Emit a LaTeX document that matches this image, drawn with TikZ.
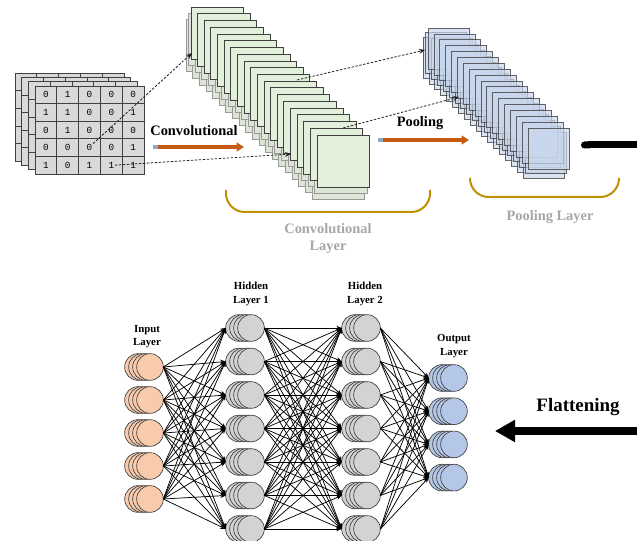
\documentclass[tikz,border=0pt]{standalone}
\usepackage{fontspec}
\setmainfont{Liberation Serif}
\setmonofont{Liberation Mono}
\usetikzlibrary{arrows.meta}
\definecolor{matfill}{HTML}{D9D9D9}
\definecolor{gridc}{HTML}{404040}
\definecolor{convfill}{HTML}{E2EFDA}
\definecolor{shadfill}{HTML}{DDE6D6}
\definecolor{poolfill}{HTML}{C9D7EC}
\definecolor{orangec}{HTML}{C55A11}
\definecolor{stripec}{HTML}{8EA9C8}
\definecolor{goldc}{HTML}{BF9000}
\definecolor{grayt}{HTML}{A6A6A6}
\definecolor{infill}{HTML}{F8CBAD}
\definecolor{hidfill}{HTML}{D3D3D3}
\definecolor{outfill}{HTML}{B4C7E7}
\definecolor{dashc}{HTML}{202020}
\tikzset{
  gridline/.style={draw=gridc, line width=0.55pt},
  digit/.style={font=\ttfamily\fontsize{7}{8}\selectfont, inner sep=0.5pt},
  convsq/.style={draw=gridc, line width=0.6pt, fill=convfill},
  shadsq/.style={draw=gray!80, line width=0.5pt, fill=shadfill},
  poolsq/.style={draw=gridc, draw opacity=0.8, line width=0.55pt, fill=poolfill, fill opacity=0.7},
  dashconn/.style={draw=dashc, line width=0.6pt, dash pattern=on 1.8pt off 1.2pt, -{Stealth[length=4.5pt,width=3.6pt]}},
  oarrow/.style={draw=orangec, line width=2.6pt, -{Triangle[length=5.5pt,width=6.5pt]}},
  bracket/.style={draw=goldc, line width=1.5pt, rounded corners=14pt},
  boldlbl/.style={font=\bfseries\fontsize{10.8}{12.75}\selectfont, align=center, inner sep=0pt},
  graylbl/.style={font=\bfseries\fontsize{10.8}{12.75}\selectfont, text=grayt, align=center, inner sep=0pt},
  nnlbl/.style={font=\bfseries\fontsize{8.1}{9.9}\selectfont, align=center, inner sep=0pt},
  neu/.style={circle, draw=gridc, line width=0.5pt, minimum size=20pt, inner sep=0pt, outer sep=0pt},
  conn/.style={draw=black, line width=0.55pt, -{Stealth[length=4pt,width=3.4pt]}},
}
\newcommand\mkneuron[4]{%
  \foreach \k in {3,2,1} {\node[neu, fill=#4] (#1x\k) at ({#2-4*\k},#3) {};}
  \node[neu, fill=#4] (#1) at (#2,#3) {};}
\begin{document}
\begin{tikzpicture}[x=0.75pt,y=-0.75pt]
\useasboundingbox (0,0) rectangle (637,541);
% ---------- input matrix ----------
\foreach \L in {3,2,1,0} {
  \begin{scope}[shift={(-6.7*\L,-4.3*\L)}]
    \draw[gridline, fill=matfill] (35,86) rectangle (144,174);
    \foreach \c in {1,...,4} \draw[gridline] ({35+21.8*\c},86) -- ({35+21.8*\c},174);
    \foreach \r in {1,...,4} \draw[gridline] (35,{86+17.6*\r}) -- (144,{86+17.6*\r});
  \end{scope}}
\foreach \row [count=\r from 0] in {{0,1,0,0,0},{1,1,0,0,1},{0,1,0,0,0},{0,0,0,0,1},{1,0,1,1,1}}
  \foreach \v [count=\c from 0] in \row
    \node[digit] (d\r\c) at ({35+21.8*(\c+0.5)},{86+17.6*(\r+0.5)}) {\v};
% ---------- convolution maps ----------
\foreach \i in {0,...,19} \draw[shadsq] ({186+6.63*\i},{19+6.74*\i}) rectangle +(52.5,52.5);
\foreach \i in {0,...,19} \draw[shadsq] ({188.5+6.63*\i},{13+6.74*\i}) rectangle +(52.5,52.5);
\foreach \i in {0,...,19} \draw[convsq] ({191+6.63*\i},{7+6.74*\i}) rectangle +(52.5,52.5);
% ---------- pooling maps ----------
\foreach \i in {0,...,17} \draw[poolsq] ({423+5.88*\i},{37+5.88*\i}) rectangle +(41,41);
\foreach \i in {0,...,17} \draw[poolsq] ({425.5+5.88*\i},{32.5+5.88*\i}) rectangle +(41,41);
\foreach \i in {0,...,17} \draw[poolsq] ({428+5.88*\i},{28+5.88*\i}) rectangle +(41,41);
% ---------- dashed links ----------
\coordinate (cA) at (192,53);
\coordinate (cB) at (291,154);
\coordinate (cC) at (297,80);
\coordinate (cD) at (343,128);
\coordinate (pA) at (425,50);
\coordinate (pB) at (459,97);
\draw[dashconn] (d32.north east) -- (cA);
\draw[dashconn] (d43.east) -- (cB);
\draw[dashconn] (cC) -- (pA);
\draw[dashconn] (cD) -- (pB);
% ---------- orange arrows ----------
\node[boldlbl] (convtxt) at (194,131) {Convolutional};
\coordinate (oa1) at (158,147);
\coordinate (oa2) at (244,147);
\fill[stripec] (153,145.2) rectangle (158,148.8);
\draw[oarrow] (oa1) -- (oa2);
\node[boldlbl] (pooltxt) at (420,123) {Pooling};
\coordinate (ob1) at (383,140);
\coordinate (ob2) at (469,140);
\fill[stripec] (378,138.2) rectangle (383,141.8);
\draw[oarrow] (ob1) -- (ob2);
% ---------- brackets ----------
\draw[bracket] (226,190) -- (226,212) -- (430,212) -- (430,190);
\draw[bracket] (470,178) -- (470,197) -- (619,197) -- (619,178);
\node[graylbl] (convlayer) at (328,239) {Convolutional\\Layer};
\node[graylbl] (poollayer) at (550,217) {Pooling Layer};
% ---------- flatten line ----------
\coordinate (fl1) at (581,145);
\coordinate (fl2) at (637,145);
\draw[line width=5.25pt, {Round Cap[]}-] (fl1) -- (fl2);
% ---------- neural network ----------
\foreach \j [evaluate=\j as \yy using {367+33*(\j-1)}] in {1,...,5} {\mkneuron{in\j}{150}{\yy}{infill}}
\foreach \j [evaluate=\j as \yy using {328+33.5*(\j-1)}] in {1,...,7} {\mkneuron{ha\j}{251}{\yy}{hidfill}}
\foreach \j [evaluate=\j as \yy using {328+33.5*(\j-1)}] in {1,...,7} {\mkneuron{hb\j}{367}{\yy}{hidfill}}
\foreach \j [evaluate=\j as \yy using {378+33.2*(\j-1)}] in {1,...,4} {\mkneuron{out\j}{454}{\yy}{outfill}}
\foreach \a in {1,...,5} \foreach \b in {1,...,7} \draw[conn] (in\a.east) -- (ha\b x3.west);
\foreach \a in {1,...,7} \foreach \b in {1,...,7} \draw[conn] (ha\a.east) -- (hb\b x3.west);
\foreach \a in {1,...,7} \foreach \b in {1,...,4} \draw[conn] (hb\a.east) -- (out\b x3.west);
\node[nnlbl] (inlbl) at (147,337) {Input\\Layer};
\node[nnlbl] (halbl) at (251,294) {Hidden\\Layer 1};
\node[nnlbl] (hblbl) at (365,294) {Hidden\\Layer 2};
\node[nnlbl] (outlbl) at (454,346) {Output\\Layer};
% ---------- flattening ----------
\node[font=\bfseries\fontsize{14.2}{16}\selectfont, inner sep=0pt] (flat) at (578,407) {Flattening};
\coordinate (fa1) at (637,431);
\coordinate (fa2) at (495,431);
\draw[line width=6pt, -{Triangle[length=15pt,width=15.75pt]}] (fa1) -- (fa2);
\end{tikzpicture}
\end{document}
